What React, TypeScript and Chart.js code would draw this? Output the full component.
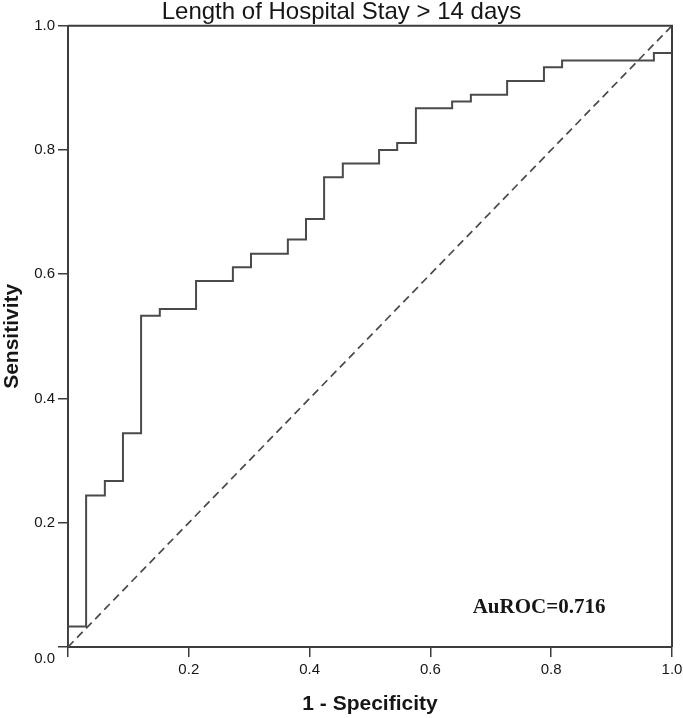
import React, { useEffect, useRef } from 'react';
import { Chart, registerables } from 'chart.js';

Chart.register(...registerables);

// ROC curve corner points (1 - specificity, sensitivity)
const FPR = [0, 0, 0.030, 0.061, 0.091, 0.121, 0.152, 0.212, 0.273, 0.303, 0.364, 0.394, 0.424, 0.455, 0.515, 0.545, 0.576, 0.636, 0.667, 0.727, 0.788, 0.818, 0.970, 1.0];
const SENS = [0, 0.033, 0.244, 0.267, 0.344, 0.533, 0.544, 0.589, 0.611, 0.633, 0.656, 0.689, 0.756, 0.778, 0.800, 0.811, 0.867, 0.878, 0.889, 0.911, 0.933, 0.944, 0.956, 1.0];

// Chance (reference) line
const REF_X = [0, 1];
const REF_Y = [0, 1];

// Ticks
const TICK_VALUES = [0, 0.2, 0.4, 0.6, 0.8, 1.0];
const TICK_LABELS = ['0.0', '0.2', '0.4', '0.6', '0.8', '1.0'];

const TITLE = 'Length of Hospital Stay > 14 days';
const X_TITLE = '1 - Specificity';
const Y_TITLE = 'Sensitivity';
const AUC_TEXT = 'AuROC=0.716';

const SANS = '"Liberation Sans", Arial, sans-serif';
const SERIF = '"Liberation Serif", "Times New Roman", serif';
const LINE = '#4a4a4a';
const AXIS = '#3c3c3c';
const TEXT = '#161616';

const labelFor = (v: number) => {
  const i = TICK_VALUES.findIndex((t) => Math.abs(t - v) < 1e-9);
  return i >= 0 ? TICK_LABELS[i] : '';
};

const framePlugin = {
  id: 'frameAndNote',
  afterDraw(chart: any) {
    const { ctx, chartArea, scales } = chart;
    const { left, right, top, bottom } = chartArea;
    ctx.save();
    ctx.strokeStyle = AXIS;
    ctx.lineWidth = 2;
    ctx.beginPath();
    ctx.moveTo(left, top);
    ctx.lineTo(right, top);
    ctx.lineTo(right, bottom);
    ctx.stroke();
    ctx.fillStyle = TEXT;
    ctx.font = `bold 21px ${SERIF}`;
    ctx.textAlign = 'left';
    ctx.textBaseline = 'alphabetic';
    ctx.fillText(AUC_TEXT, scales.x.getPixelForValue(0.67), scales.y.getPixelForValue(0.055));
    ctx.restore();
  },
};

export default function App() {
  const ref = useRef<HTMLCanvasElement | null>(null);

  useEffect(() => {
    if (!ref.current) return;
    const chart = new Chart(ref.current, {
      type: 'line',
      data: {
        datasets: [
          {
            data: FPR.map((x, i) => ({ x, y: SENS[i] })),
            stepped: 'before',
            borderColor: LINE,
            borderWidth: 2,
            pointRadius: 0,
            fill: false,
          },
          {
            data: REF_X.map((x, i) => ({ x, y: REF_Y[i] })),
            borderColor: LINE,
            borderWidth: 1.7,
            borderDash: [8, 5],
            pointRadius: 0,
            fill: false,
          },
        ],
      },
      options: {
        animation: false,
        responsive: false,
        devicePixelRatio: 1,
        layout: { padding: 0 },
        plugins: {
          legend: { display: false },
          tooltip: { enabled: false },
          title: {
            display: true,
            text: TITLE,
            color: TEXT,
            font: { family: SANS, size: 24, weight: 'normal', lineHeight: 1.07 },
            padding: { top: 0, bottom: 0 },
          },
        },
        scales: {
          x: {
            type: 'linear',
            min: 0,
            max: 1,
            afterBuildTicks: (s: any) => {
              s.ticks = TICK_VALUES.map((v) => ({ value: v }));
            },
            afterFit: (s: any) => {
              s.height = 71;
              s.paddingLeft = 0;
              s.paddingRight = 11;
            },
            ticks: {
              autoSkip: false,
              maxRotation: 0,
              padding: 4,
              color: TEXT,
              font: { family: SANS, size: 15 },
              callback: (v: any) => (Number(v) === 0 ? '' : labelFor(Number(v))),
            },
            grid: { drawOnChartArea: false, drawTicks: true, tickLength: 10, color: AXIS, lineWidth: 1.5 },
            border: { display: true, color: AXIS, width: 2 },
            title: {
              display: true,
              text: X_TITLE,
              color: TEXT,
              font: { family: SANS, size: 21, weight: 'bold' },
              padding: { top: 0, bottom: 1 },
            },
          },
          y: {
            type: 'linear',
            min: 0,
            max: 1,
            afterBuildTicks: (s: any) => {
              s.ticks = TICK_VALUES.map((v) => ({ value: v }));
            },
            afterFit: (s: any) => {
              s.width = 68;
              s.paddingTop = 0;
              s.paddingBottom = 0;
            },
            ticks: {
              autoSkip: false,
              padding: 3,
              color: TEXT,
              font: (c: any) => ({
                family: SANS,
                size: 15,
                lineHeight: c && c.tick && c.tick.value === 0 ? 1.6 : 1.2,
              }),
              callback: (v: any) => (Number(v) === 0 ? ['', labelFor(0)] : labelFor(Number(v))),
            },
            grid: { drawOnChartArea: false, drawTicks: true, tickLength: 10, color: AXIS, lineWidth: 1.5 },
            border: { display: true, color: AXIS, width: 2 },
            title: {
              display: true,
              text: Y_TITLE,
              color: TEXT,
              font: { family: SANS, size: 21, weight: 'bold' },
              padding: { top: 0, bottom: 0 },
            },
          },
        },
      },
      plugins: [framePlugin],
    } as any);
    return () => chart.destroy();
  }, []);

  return (
    <div style={{ position: 'absolute', left: 0, top: 0, width: 683, height: 718, background: '#fff' }}>
      <canvas ref={ref} width={683} height={718} style={{ display: 'block' }} />
    </div>
  );
}
